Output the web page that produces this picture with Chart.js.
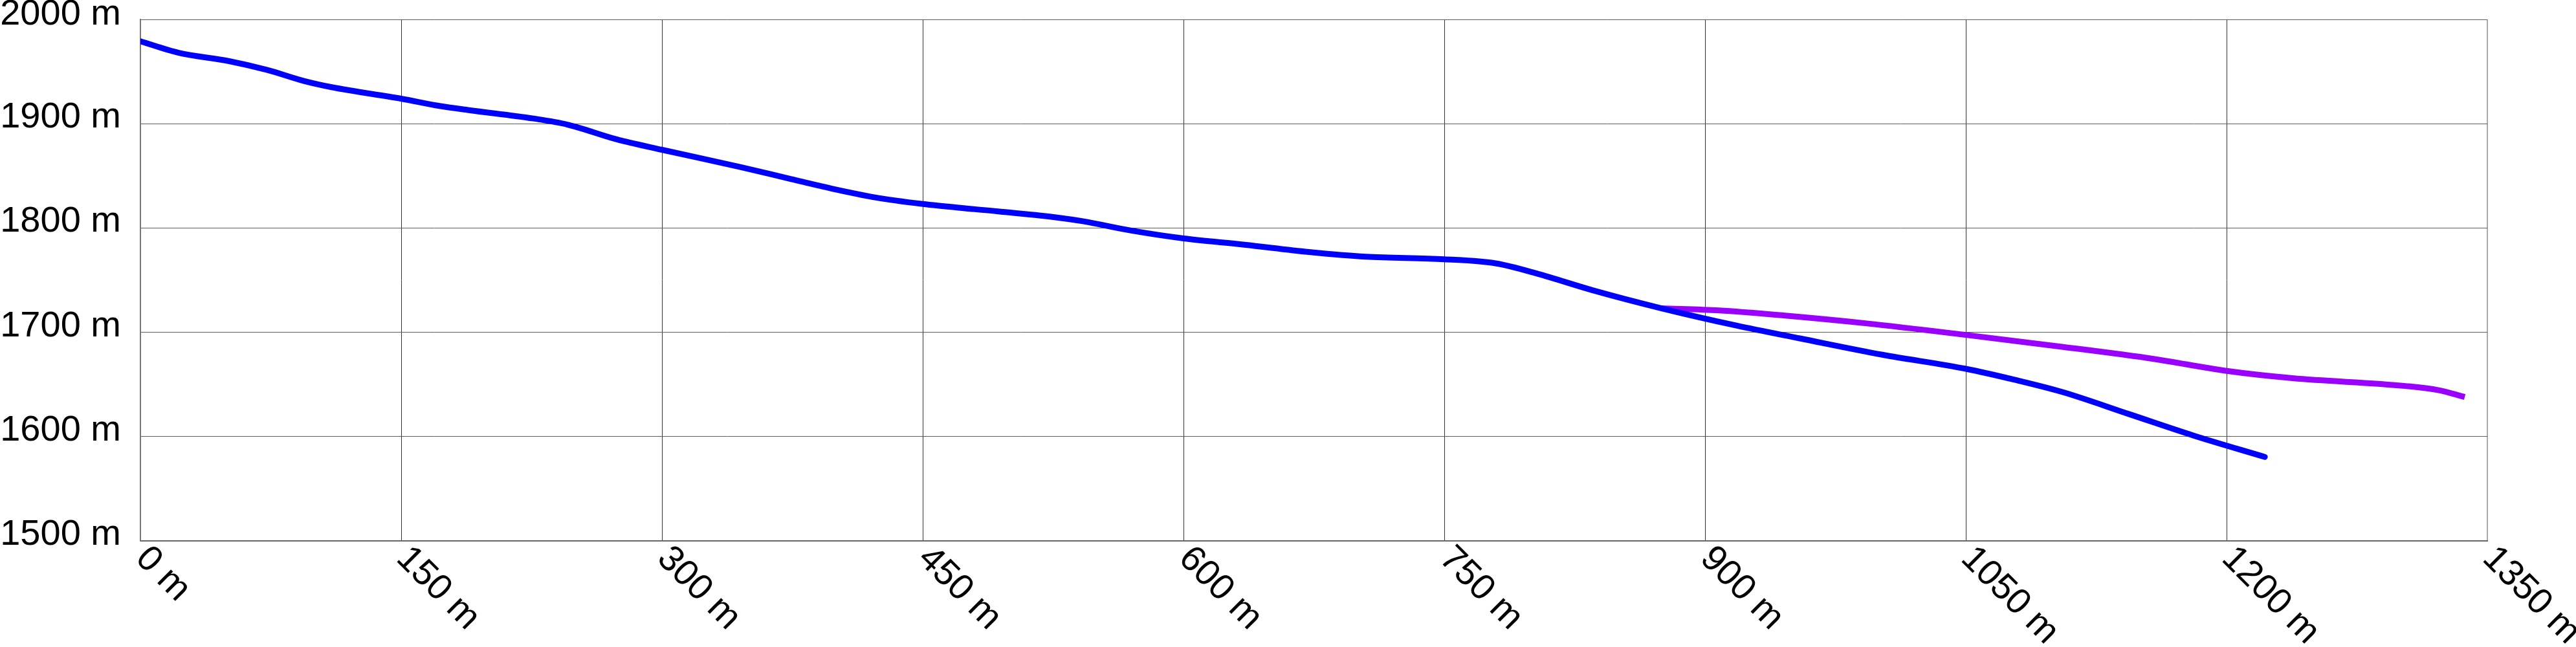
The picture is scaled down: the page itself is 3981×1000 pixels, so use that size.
<!DOCTYPE html>
<html>
<head>
<meta charset="utf-8">
<script src="https://cdn.jsdelivr.net/npm/chart.js@4.4.1/dist/chart.umd.min.js"></script>
<style>
  html, body { margin: 0; padding: 0; background: #fff; }
  #wrap { width: 3981px; height: 1000px; position: relative; }
</style>
</head>
<body>
<div id="wrap"><canvas id="profile"></canvas></div>
<script>
// distance along the route (m) and elevation (m)
const mainDist = [0, 22, 51, 73, 94, 110, 150, 172, 189, 226, 246, 274, 300, 345, 374, 397, 422, 450, 480, 523, 542, 570, 600, 635, 672, 705, 750, 780, 804, 835, 875, 918, 955, 1002, 1050, 1078, 1106, 1144, 1181, 1222];
const mainElev = [1979, 1968, 1960, 1951.5, 1941, 1935, 1924, 1917, 1913, 1905, 1899, 1885, 1875, 1858.5, 1847, 1838, 1829.5, 1823, 1818, 1811, 1806.5, 1797.5, 1790, 1784, 1777, 1772.5, 1770, 1766, 1756, 1740.5, 1723, 1706.5, 1694, 1678.5, 1665, 1654.5, 1642.5, 1621.5, 1601, 1580.5];

const branchDist = [875, 908, 946, 993, 1050, 1106, 1158, 1200, 1238, 1303, 1322, 1337];
const branchElev = [1723, 1721, 1716, 1708.5, 1697.5, 1686, 1674.5, 1663, 1656, 1648.5, 1644.5, 1638];

const xTicks = [0, 150, 300, 450, 600, 750, 900, 1050, 1200, 1350];
const yTicks = [1500, 1600, 1700, 1800, 1900, 2000];

const FONT = "'Liberation Sans', Arial, sans-serif";
const LABEL_SIZE = 56;

function toPoints(xs, ys) {
    return xs.map((x, i) => ({x: x, y: ys[i]}));
}

// axis labels: y labels sit a bit above their line, x labels run down to the right
const axisLabels = {
    id: 'axisLabels',
    afterDraw(chart) {
        const ctx = chart.ctx;
        const area = chart.chartArea;
        const xs = chart.scales.x;
        const ys = chart.scales.y;
        ctx.save();
        ctx.fillStyle = '#000';
        ctx.font = LABEL_SIZE + 'px ' + FONT;

        ctx.textAlign = 'right';
        ctx.textBaseline = 'middle';
        yTicks.forEach(v => {
            const py = Math.max(ys.getPixelForValue(v) - 9.5, 23);
            ctx.fillText(v + ' m', area.left - 30, py);
        });

        ctx.textAlign = 'left';
        xTicks.forEach(v => {
            const px = xs.getPixelForValue(v);
            ctx.save();
            ctx.translate(px + 1.5, area.bottom + 18.5);
            ctx.rotate(Math.PI / 4);
            ctx.fillText(v + ' m', 0, 0);
            ctx.restore();
        });
        ctx.restore();
    }
};

const ctx = document.getElementById('profile');
const chart = new Chart(ctx, {
    type: 'line',
    data: {
        datasets: [{
            label: 'main',
            data: toPoints(mainDist, mainElev),
            borderColor: '#0000ff',
            borderWidth: 9,
            borderCapStyle: 'round',
            pointRadius: 0,
            cubicInterpolationMode: 'monotone',
            fill: false
        }, {
            label: 'branch',
            data: toPoints(branchDist, branchElev),
            borderColor: '#9900ff',
            borderWidth: 9,
            pointRadius: 0,
            cubicInterpolationMode: 'monotone',
            fill: false
        }]
    },
    options: {
        responsive: true,
        maintainAspectRatio: false,
        animation: false,
        events: [],
        layout: { padding: { top: 30, right: 137, bottom: 164, left: 217 } },
        plugins: {
            legend: { display: false },
            tooltip: { enabled: false }
        },
        scales: {
            x: {
                type: 'linear',
                min: 0,
                max: 1350,
                afterBuildTicks: (axis) => { axis.ticks = xTicks.map(v => ({value: v})); },
                ticks: { display: false },
                grid: {
                    color: (c) => c.tick && c.tick.value === 1350 ? '#aaaaaa' : '#333333',
                    lineWidth: (c) => c.tick && c.tick.value === 1350 ? 2 : 1,
                    drawTicks: false
                },
                border: { color: '#666666', width: 2 }
            },
            y: {
                type: 'linear',
                min: 1500,
                max: 2000,
                afterBuildTicks: (axis) => { axis.ticks = yTicks.map(v => ({value: v})); },
                ticks: { display: false },
                grid: { color: '#5a5a5a', lineWidth: 1, drawTicks: false },
                border: { color: '#777777', width: 2 }
            }
        }
    },
    plugins: [axisLabels]
});
</script>
</body>
</html>
